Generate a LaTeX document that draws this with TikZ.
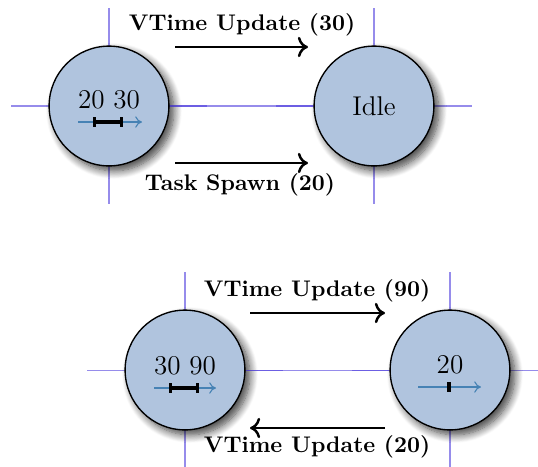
\documentclass[tikz,border=0pt]{standalone}
\usetikzlibrary{arrows.meta,shadows.blur,calc}
\definecolor{statefill}{RGB}{176,196,222}
\definecolor{gridline}{RGB}{80,63,222}
\definecolor{timeline}{RGB}{70,130,180}
\begin{document}
\begin{tikzpicture}[x=0.4425pt,y=-0.4425pt,
  state/.style={circle,draw=black,line width=0.6pt,fill=statefill,
    minimum size=53pt,inner sep=0pt,
    blur shadow={shadow xshift=2.2pt,shadow yshift=-2.2pt,shadow blur steps=10,shadow blur radius=3.5pt,shadow opacity=75}},
  guide/.style={draw=gridline,line width=0.45pt,opacity=0.6},
  stamp/.style={font=\large,inner sep=0pt},
  axis/.style={draw=timeline,line width=0.5pt,-{To[length=3pt,width=5pt]}},
  span/.style={line width=1.5pt,{Bar[width=4pt]}-{Bar[width=4pt]}},
  tick/.style={line width=1.5pt},
  msg/.style={line width=1.1pt,-{To[length=4.5pt,width=9pt]}},
  msglabel/.style={font=\bfseries,inner sep=0pt}]
\useasboundingbox (0,0) rectangle (538,466);

% ---- first pair of states ----
\coordinate (a) at (109,106);
\coordinate (b) at (374,106);
\foreach \c in {a,b}{
  \draw[guide] ($(\c)+(-98,0)$) -- ($(\c)+(98,0)$);
  \draw[guide] ($(\c)+(0,-98)$) -- ($(\c)+(0,98)$);
}
\node[state] (A) at (a) {};
\node[state] (B) at (b) {};
\draw[guide] (A.east) -- (B.west);

\node[stamp] (Ats) at (109,100) {20 30};
\coordinate (Aax1) at (78,122);  \coordinate (Aax2) at (142,122);
\coordinate (Asp1) at (93,122);  \coordinate (Asp2) at (123,122);
\draw[axis] (Aax1) -- (Aax2);
\draw[span] (Asp1) -- (Asp2);

\node[font=\large,inner sep=0pt] (Bts) at (374,106) {Idle};

\coordinate (m1s) at (175,47);  \coordinate (m1e) at (308,47);
\coordinate (m2s) at (175,163); \coordinate (m2e) at (308,163);
\draw[msg] (m1s) -- (m1e);
\draw[msg] (m2s) -- (m2e);
\node[msglabel] (l1) at (242,25) {VTime Update (30)};
\node[msglabel] (l2) at (240,185) {Task Spawn (20)};

% ---- second pair of states ----
\coordinate (c) at (185,370);
\coordinate (d) at (450,370);
\foreach \c in {c,d}{
  \draw[guide] ($(\c)+(-98,0)$) -- ($(\c)+(98,0)$);
  \draw[guide] ($(\c)+(0,-98)$) -- ($(\c)+(0,98)$);
}
\node[state] (C) at (c) {};
\node[state] (D) at (d) {};
\draw[guide] (C.east) -- (D.west);

\node[stamp] (Cts) at (185,366) {30 90};
\coordinate (Cax1) at (154,388); \coordinate (Cax2) at (216,388);
\coordinate (Csp1) at (169,388); \coordinate (Csp2) at (199,388);
\draw[axis] (Cax1) -- (Cax2);
\draw[span] (Csp1) -- (Csp2);

\node[stamp] (Dts) at (450,365) {20};
\coordinate (Dax1) at (418,387); \coordinate (Dax2) at (481,387);
\coordinate (Dt1) at (449,382);  \coordinate (Dt2) at (449,392);
\draw[axis] (Dax1) -- (Dax2);
\draw[tick] (Dt1) -- (Dt2);

\coordinate (m3s) at (250,313); \coordinate (m3e) at (385,313);
\coordinate (m4s) at (385,428); \coordinate (m4e) at (250,428);
\draw[msg] (m3s) -- (m3e);
\draw[msg] (m4s) -- (m4e);
\node[msglabel] (l3) at (317,291) {VTime Update (90)};
\node[msglabel] (l4) at (317,447) {VTime Update (20)};
\end{tikzpicture}
\end{document}
